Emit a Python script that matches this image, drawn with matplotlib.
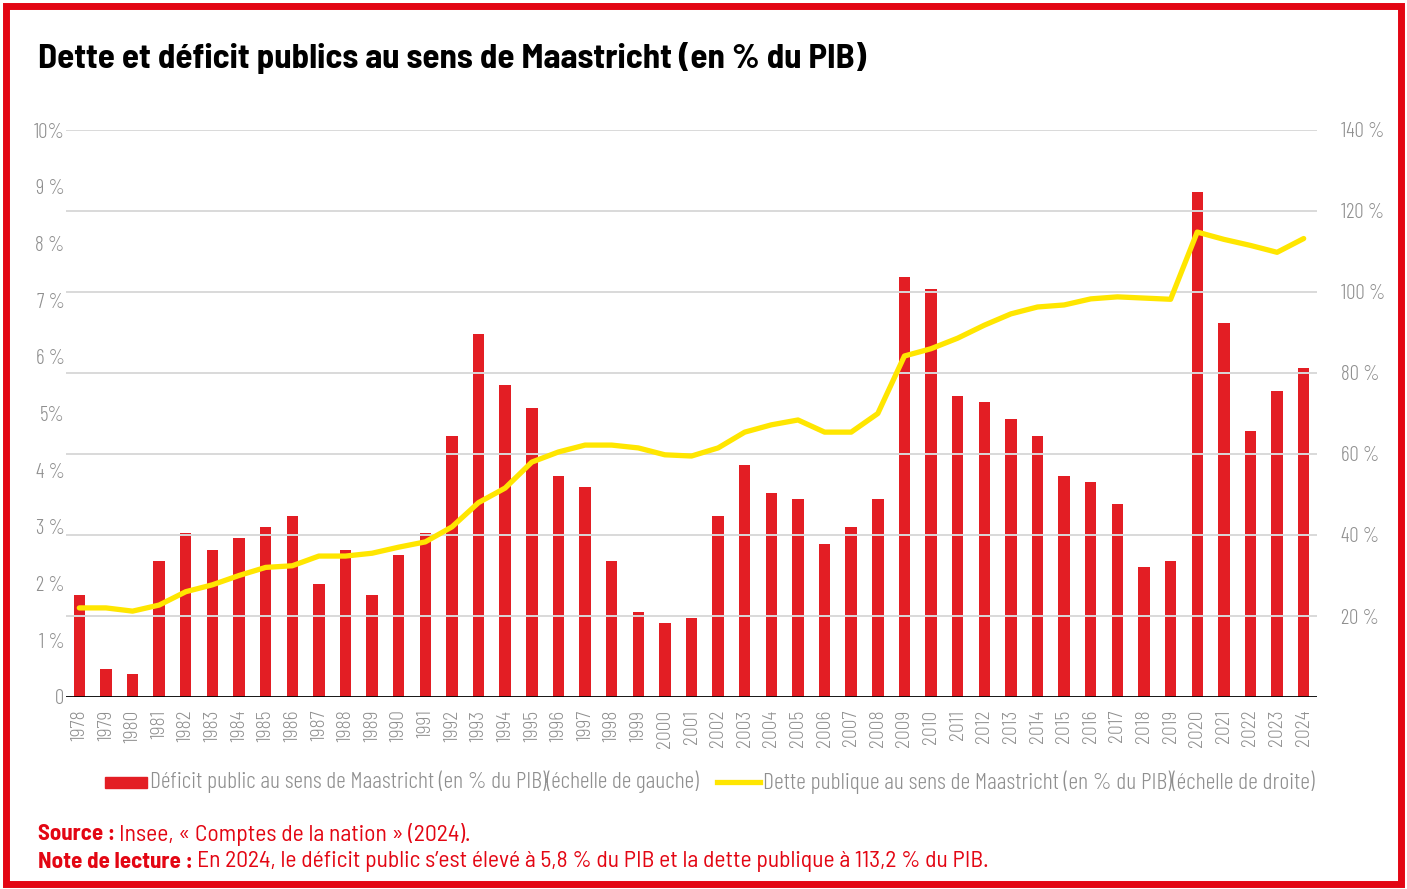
import matplotlib
matplotlib.use("Agg")
import matplotlib.pyplot as plt
from matplotlib.patches import Rectangle
from matplotlib.lines import Line2D

years = [str(y) for y in range(1978, 2025)]

# déficit public (% du PIB), échelle de gauche
deficit = [1.8, 0.5, 0.4, 2.4, 2.9, 2.6, 2.8, 3.0, 3.2, 2.0,
           2.6, 1.8, 2.5, 2.9, 4.6, 6.4, 5.5, 5.1, 3.9, 3.7,
           2.4, 1.5, 1.3, 1.4, 3.2, 4.1, 3.6, 3.5, 2.7, 3.0,
           3.5, 7.4, 7.2, 5.3, 5.2, 4.9, 4.6, 3.9, 3.8, 3.4,
           2.3, 2.4, 8.9, 6.6, 4.7, 5.4, 5.8]

# dette publique (% du PIB), échelle de droite
dette = [22.0, 22.0, 21.2, 22.7, 26.0, 27.7, 30.0, 32.0, 32.4, 34.8,
         34.8, 35.5, 37.0, 38.3, 42.0, 48.0, 51.6, 58.0, 60.5, 62.2,
         62.2, 61.5, 59.8, 59.5, 61.5, 65.4, 67.2, 68.4, 65.4, 65.4,
         70.0, 84.2, 86.0, 88.6, 91.8, 94.6, 96.3, 96.8, 98.3, 98.8,
         98.5, 98.2, 114.8, 113.0, 111.5, 109.8, 113.2]

left_ticks = list(range(0, 11))
left_labels = ["0", "1 %", "2 %", "3 %", "4 %", "5%", "6 %", "7 %", "8 %", "9 %", "10%"]
right_ticks = [20, 40, 60, 80, 100, 120, 140]
right_labels = ["20 %", "40 %", "60 %", "80 %", "100 %", "120 %", "140 %"]

RED = "#E31E24"
FRAME = "#E30613"
YELLOW = "#FFE600"
GREY = "#8f8f8f"

LIGHT = dict(family=["Barlow Condensed", "DejaVu Sans"], weight=300)
LIGHT_SEMI = dict(family=["Barlow Semi Condensed", "DejaVu Sans"], weight=300)
TXT = ["Barlow Semi Condensed", "DejaVu Sans"]

W, H = 1407, 889
fig = plt.figure(figsize=(W / 100, H / 100), dpi=100)
renderer = fig.canvas.get_renderer()


def fx(px):
    return px / W


def fy(py):
    return 1 - py / H


def fit(t, width_px):
    # ajuste la taille de police pour obtenir la largeur voulue
    w = t.get_window_extent(renderer).width
    t.set_fontsize(t.get_fontsize() * width_px / w)
    return t


# cadre rouge
fig.patches.append(Rectangle((fx(6), fy(884)), fx(1395), 878 / H,
                             transform=fig.transFigure, fill=False,
                             edgecolor=FRAME, linewidth=5))

ax = fig.add_axes([fx(66), fy(697), fx(1317 - 66), (697 - 130) / H])
ax2 = ax.twinx()

x = list(range(len(years)))
ax.bar(x, deficit, width=0.43, color=RED, zorder=3)
ax.set_xlim(-0.5, 46.5)
ax.set_ylim(0, 10)

ax2.set_ylim(0, 140)
for t in right_ticks:
    ax2.axhline(t, color="#d9d9d9", linewidth=1.4, zorder=0)
ax2.plot(x, dette, color=YELLOW, linewidth=3.8, solid_capstyle="round", zorder=4)
ax2.set_zorder(ax.get_zorder() + 1)
ax2.patch.set_visible(False)
ax.set_axisbelow(True)

ax.set_yticks(left_ticks)
ax.set_yticklabels(left_labels, color=GREY, fontsize=15, **LIGHT)
ax.set_xticks(x)
ax.set_xticklabels(years, rotation=90, color=GREY, fontsize=14, **LIGHT_SEMI)
ax.tick_params(axis="y", length=0, pad=1)
ax.tick_params(axis="x", length=0, pad=9)
ax2.set_yticks(right_ticks)
ax2.set_yticklabels(right_labels, color=GREY, fontsize=15, **LIGHT)
ax2.tick_params(axis="y", length=0, pad=17)

for a in (ax, ax2):
    for s in a.spines.values():
        s.set_visible(False)
ax.axhline(0, color="black", linewidth=2, zorder=5)

# titre
title = fig.text(fx(38), fy(58), "Dette et déficit publics au sens de Maastricht (en % du PIB)",
                 fontsize=24, fontweight="bold", family=TXT, va="center", ha="left")
fit(title, 830)

# légende
fig.patches.append(Rectangle((fx(105), fy(788)), fx(42), 11 / H,
                             transform=fig.transFigure, color=RED))
fig.lines.append(Line2D([fx(717), fx(760)], [fy(782), fy(782)],
                        transform=fig.transFigure, color=YELLOW, linewidth=3.8))
leg1 = fig.text(fx(150), fy(782), "Déficit public au sens de Maastricht (en % du PIB)(échelle de gauche)",
                color=GREY, fontsize=15, va="center", **LIGHT)
fit(leg1, 550)
leg2 = fig.text(fx(763), fy(782), "Dette publique au sens de Maastricht (en % du PIB)(échelle de droite)",
                color=GREY, fontsize=15, va="center", **LIGHT)
fit(leg2, 550)

# source et note de lecture
s1 = fig.text(fx(38), fy(834), "Source :", fontsize=16, fontweight="bold",
              family=TXT, color=FRAME, va="center")
fit(s1, 77)
s2 = fig.text(fx(119), fy(834), "Insee, « Comptes de la nation » (2024).",
              fontsize=16, family=TXT, color=FRAME, va="center")
fit(s2, 351)
n1 = fig.text(fx(38), fy(862), "Note de lecture :", fontsize=16, fontweight="bold",
              family=TXT, color=FRAME, va="center")
fit(n1, 154)
n2 = fig.text(fx(197), fy(862),
              "En 2024, le déficit public s’est élevé à 5,8 % du PIB et la dette publique à 113,2 % du PIB.",
              fontsize=16, family=TXT, color=FRAME, va="center")
fit(n2, 791)

fig.savefig("out.png", dpi=100)
